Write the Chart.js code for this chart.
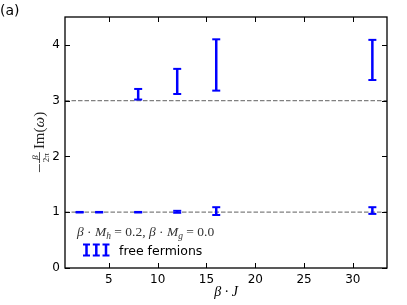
<!DOCTYPE html>
<html>
<head>
<meta charset="utf-8">
<script src="https://cdn.jsdelivr.net/npm/chart.js@4/dist/chart.umd.min.js"></script>
<style>
  html, body { margin: 0; padding: 0; background: #fff; }
  canvas { display: block; }
</style>
</head>
<body>
<canvas id="chart" width="407" height="305"></canvas>
<script>
// --- datos ---
const xTicks = [5, 10, 15, 20, 25, 30];
const yTicks = [0, 1, 2, 3, 4];
const refLevels = [1, 3];

// rama superior (cerca de 3)
const upperBetaJ = [8, 12, 16, 32];
const upperLow = [3.02, 3.12, 3.18, 3.37];
const upperHigh = [3.21, 3.57, 4.10, 4.09];

// rama inferior (cerca de 1)
const lowerBetaJ = [2, 4, 8, 12, 16, 32];
const lowerLow = [0.995, 0.995, 0.995, 0.99, 0.95, 0.97];
const lowerHigh = [1.005, 1.005, 1.005, 1.025, 1.09, 1.09];

const X_MIN = 0.5, X_MAX = 33.5;
const BLUE = '#0000ff';
const SERIF = '"Liberation Serif", "DejaVu Serif", serif';
const SANS = '"DejaVu Sans", sans-serif';

// barras de error: inferior, superior, hueco
function errorBarPoints(xs, lows, highs) {
    const pts = [];
    xs.forEach((x, i) => {
        pts.push({ x: x, y: lows[i] }, { x: x, y: highs[i] }, { x: x, y: null });
    });
    return pts;
}

function errorBarDataset(xs, lows, highs) {
    return {
        data: errorBarPoints(xs, lows, highs),
        showLine: true,
        spanGaps: false,
        borderColor: BLUE,
        borderWidth: 2.5,
        pointStyle: 'line',
        pointRadius: 4,
        pointBorderWidth: 2,
        pointBorderColor: BLUE,
        order: 0
    };
}

const refDatasets = refLevels.map(v => ({
    data: [{ x: X_MIN, y: v }, { x: X_MAX, y: v }],
    showLine: true,
    borderColor: '#808080',
    borderWidth: 1.2,
    borderDash: [4.5, 2],
    pointRadius: 0,
    order: 5
}));

// marco, ticks hacia adentro y textos
const decorPlugin = {
    id: 'decor',
    afterDraw(chart) {
        const { ctx, chartArea: a, scales } = chart;
        ctx.save();
        ctx.strokeStyle = '#000';
        ctx.lineWidth = 1;
        ctx.beginPath();
        xTicks.forEach(t => {
            const px = Math.round(scales.x.getPixelForValue(t)) + 0.5;
            ctx.moveTo(px, a.bottom); ctx.lineTo(px, a.bottom - 5);
            ctx.moveTo(px, a.top); ctx.lineTo(px, a.top + 5);
        });
        yTicks.forEach(t => {
            const py = Math.round(scales.y.getPixelForValue(t)) + 0.5;
            ctx.moveTo(a.left, py); ctx.lineTo(a.left + 5, py);
            ctx.moveTo(a.right, py); ctx.lineTo(a.right - 5, py);
        });
        ctx.stroke();
        ctx.lineWidth = 1.3;
        ctx.strokeRect(a.left, a.top, a.right - a.left, a.bottom - a.top);

        // (a)
        ctx.fillStyle = '#000';
        ctx.font = '14px ' + SANS;
        ctx.textBaseline = 'alphabetic';
        ctx.textAlign = 'left';
        ctx.fillText('(a)', 0, 15);

        // etiqueta eje x
        ctx.font = 'italic 14px ' + SERIF;
        ctx.textAlign = 'center';
        ctx.fillText('\u03B2 \u00B7 J', (a.left + a.right) / 2, 296);

        // anotacion con subindices
        ctx.textAlign = 'left';
        ctx.fillStyle = '#333';
        const parts = [
            ['\u03B2', 'italic 13.5px', 0], [' \u00B7 ', '13.5px', 0], ['M', 'italic 13.5px', 0], ['h', 'italic 9.5px', 2.5],
            [' = 0.2, ', '13.5px', 0], ['\u03B2', 'italic 13.5px', 0], [' \u00B7 ', '13.5px', 0], ['M', 'italic 13.5px', 0],
            ['g', 'italic 9.5px', 2.5], [' = 0.0', '13.5px', 0]
        ];
        let cx = 77;
        parts.forEach(([txt, f, dy]) => {
            ctx.font = f + ' ' + SERIF;
            ctx.fillText(txt, cx, 236 + dy);
            cx += ctx.measureText(txt).width;
        });

        // leyenda
        ctx.strokeStyle = BLUE;
        [86.5, 96.3, 106].forEach(x => {
            ctx.lineWidth = 2.5;
            ctx.beginPath(); ctx.moveTo(x, 244.5); ctx.lineTo(x, 255.5); ctx.stroke();
            ctx.lineWidth = 2;
            ctx.beginPath();
            ctx.moveTo(x - 3.5, 244.5); ctx.lineTo(x + 3.5, 244.5);
            ctx.moveTo(x - 3.5, 255.5); ctx.lineTo(x + 3.5, 255.5);
            ctx.stroke();
        });
        ctx.fillStyle = '#000';
        ctx.font = '12.5px ' + SANS;
        ctx.fillText('free fermions', 119, 255);

        // etiqueta eje y: -(beta/2pi) Im(omega)
        ctx.translate(38, (a.top + a.bottom) / 2);
        ctx.rotate(-Math.PI / 2);
        ctx.fillStyle = '#222';
        ctx.strokeStyle = '#222';
        ctx.font = '15px ' + SERIF;
        const wIm = ctx.measureText('Im(').width + ctx.measureText(')').width;
        ctx.font = 'italic 15px ' + SERIF;
        const wOm = ctx.measureText('\u03C9').width;
        const wMinus = 10, wFrac = 11;
        let lx = -(wMinus + wFrac + 3 + wIm + wOm) / 2;
        const base = 6;
        ctx.lineWidth = 0.8;
        ctx.beginPath();
        ctx.moveTo(lx + 1, base - 4.5); ctx.lineTo(lx + wMinus - 1, base - 4.5);
        ctx.moveTo(lx + wMinus, base - 4.5); ctx.lineTo(lx + wMinus + wFrac, base - 4.5);
        ctx.stroke();
        ctx.textAlign = 'center';
        ctx.font = 'italic 9px ' + SERIF;
        ctx.fillText('\u03B2', lx + wMinus + wFrac / 2, base - 6.5);
        ctx.font = '9px ' + SERIF;
        ctx.fillText('2\u03C0', lx + wMinus + wFrac / 2, base + 5);
        ctx.textAlign = 'left';
        lx += wMinus + wFrac + 3;
        ctx.font = '15px ' + SERIF;
        ctx.fillText('Im(', lx, base);
        lx += ctx.measureText('Im(').width;
        ctx.font = 'italic 15px ' + SERIF;
        ctx.fillText('\u03C9', lx, base);
        lx += wOm;
        ctx.font = '15px ' + SERIF;
        ctx.fillText(')', lx, base);
        ctx.restore();
    }
};

new Chart(document.getElementById('chart'), {
    type: 'scatter',
    data: {
        datasets: [
            errorBarDataset(upperBetaJ, upperLow, upperHigh),
            errorBarDataset(lowerBetaJ, lowerLow, lowerHigh),
            ...refDatasets
        ]
    },
    options: {
        responsive: false,
        animation: false,
        events: [],
        layout: { padding: { top: 17, right: 20, left: 0, bottom: 0 } },
        plugins: { legend: { display: false }, tooltip: { enabled: false } },
        scales: {
            x: {
                type: 'linear',
                min: X_MIN,
                max: X_MAX,
                afterBuildTicks: s => { s.ticks = xTicks.map(v => ({ value: v })); },
                afterFit: s => { s.height = 37; },
                grid: { display: false, drawTicks: false },
                border: { display: false },
                ticks: { color: '#000', font: { family: SANS, size: 12 }, padding: 5, maxRotation: 0 }
            },
            y: {
                min: 0,
                max: 4.5,
                afterBuildTicks: s => { s.ticks = yTicks.map(v => ({ value: v })); },
                afterFit: s => { s.width = 65; },
                grid: { display: false, drawTicks: false },
                border: { display: false },
                ticks: { color: '#000', font: { family: SANS, size: 12 }, padding: 5 }
            }
        }
    },
    plugins: [decorPlugin]
});
</script>
</body>
</html>
